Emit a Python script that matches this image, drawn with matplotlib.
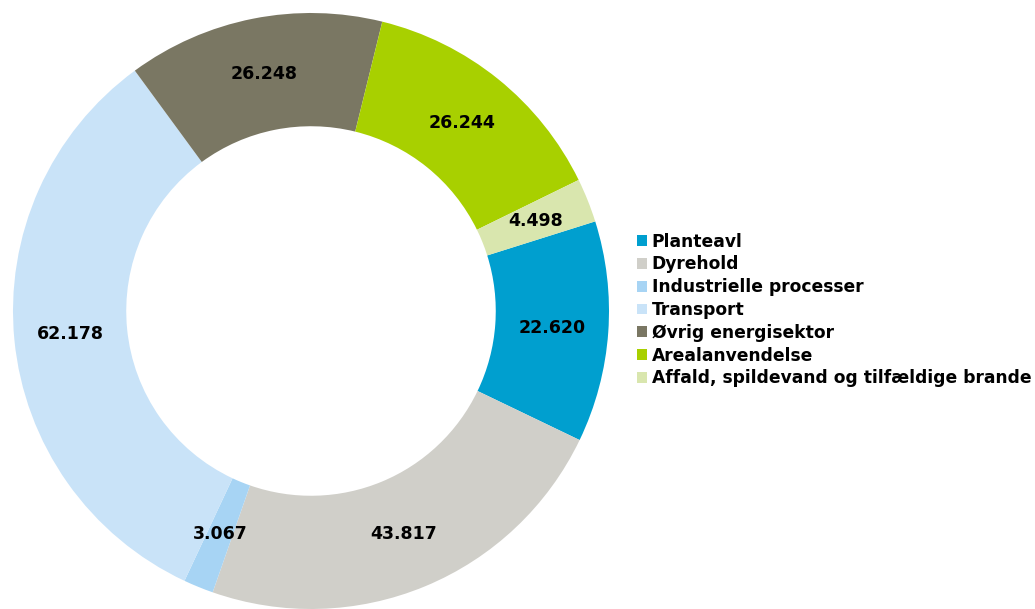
#!/usr/bin/env python3

import numpy as np
import matplotlib.pyplot as plt

kategorier = ['Planteavl', 'Dyrehold', 'Industrielle processer', 'Transport',
              'Øvrig energisektor', 'Arealanvendelse',
              'Affald, spildevand og tilfældige brande']
udledning = [22620, 43817, 3067, 62178, 26248, 26244, 4498]
farver = ['#009fcf', '#d0cfc9', '#a7d4f4', '#c9e3f8',
          '#7a7763', '#a8d000', '#d9e6ae']

fig = plt.figure(figsize=(10.35, 6.09), dpi=100)
ax = fig.add_axes([13 / 1035, 0, 596 / 1035, 596 / 609])

bredde = 0.38
wedges, _ = ax.pie(udledning, colors=farver, startangle=17.5, counterclock=False,
                   radius=1, wedgeprops=dict(width=bredde, linewidth=0))
ax.set_xlim(-1, 1)
ax.set_ylim(-1, 1)
ax.set_aspect('equal')

r_mid = 1 - bredde / 2
for w, v in zip(wedges, udledning):
    ang = np.deg2rad((w.theta1 + w.theta2) / 2)
    tekst = f'{v:,}'.replace(',', '.')
    ax.text(r_mid * np.cos(ang), r_mid * np.sin(ang), tekst,
            ha='center', va='center', fontsize=12.5, fontweight='bold')

leg = fig.legend(wedges, kategorier, loc='center left',
                 bbox_to_anchor=(637 / 1035, 1 - 310 / 609), frameon=False,
                 prop={'size': 12.3, 'weight': 'bold'},
                 handlelength=0.6, handleheight=0.6, handletextpad=0.25,
                 labelspacing=0.28, borderpad=0, borderaxespad=0)

plt.savefig('out.png', dpi=100)
